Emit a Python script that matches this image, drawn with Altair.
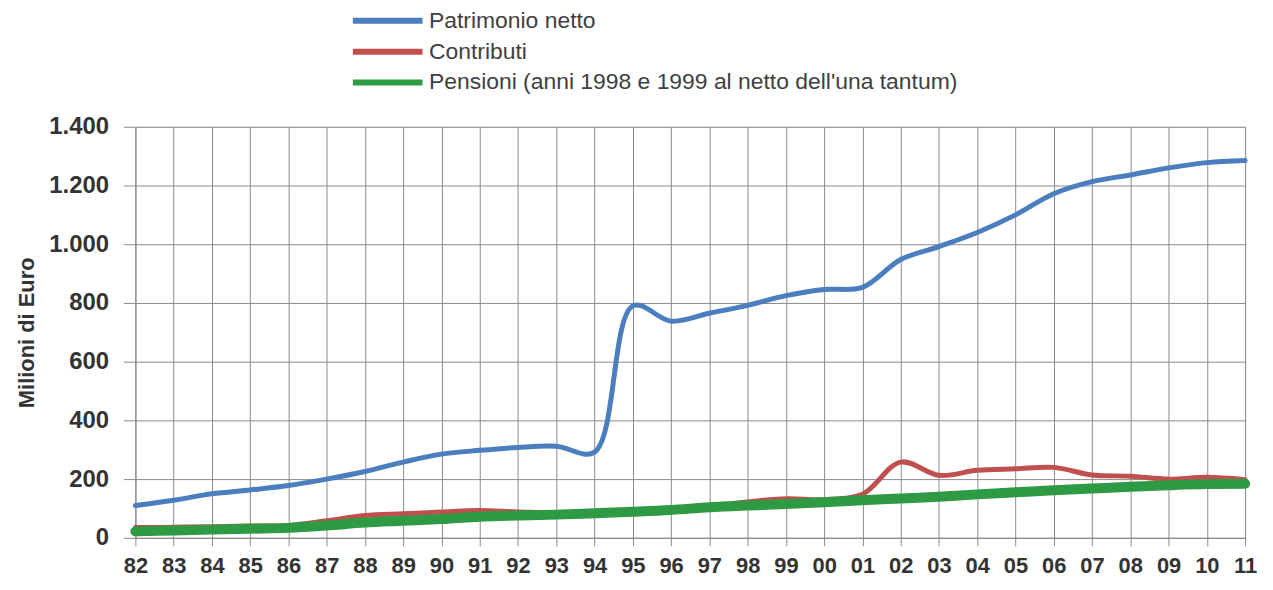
import altair as alt
import pandas as pd

years = ["82", "83", "84", "85", "86", "87", "88", "89", "90", "91",
         "92", "93", "94", "95", "96", "97", "98", "99", "00", "01",
         "02", "03", "04", "05", "06", "07", "08", "09", "10", "11"]

patrimonio = [110, 128, 150, 163, 178, 200, 226, 258, 285, 298,
              308, 312, 292, 790, 738, 765, 792, 825, 846, 853,
              948, 992, 1040, 1100, 1172, 1213, 1236, 1260, 1278, 1285]

contributi = [35, 36, 38, 40, 42, 58, 76, 82, 88, 93,
              88, 86, 88, 92, 98, 108, 122, 133, 130, 148,
              258, 213, 230, 235, 240, 214, 210, 200, 206, 198]

pensioni = [22, 25, 28, 31, 34, 42, 52, 58, 64, 72,
            76, 79, 84, 89, 95, 104, 110, 115, 121, 128,
            134, 140, 148, 155, 162, 168, 174, 179, 183, 184]

series_names = ["Patrimonio netto", "Contributi",
                "Pensioni (anni 1998 e 1999 al netto dell'una tantum)"]
series_colors = ["#4a7ebf", "#c0504d", "#2f9a44"]
series_widths = [5, 5, 10]

rows = []
for name, vals in zip(series_names, [patrimonio, contributi, pensioni]):
    for i, (y, v) in enumerate(zip(years, vals)):
        rows.append({"anno": y, "valore": v, "serie": name, "ord": i})
df = pd.DataFrame(rows)

grid_col = "#8a8a8a"

color = alt.Color(
    "serie:N",
    scale=alt.Scale(domain=series_names, range=series_colors),
    legend=alt.Legend(
        orient="none", legendX=242, legendY=-118, title=None, padding=0,
        symbolType="M-5,0L5,0", symbolSize=196, symbolStrokeWidth=6,
        labelFont="Liberation Sans", labelFontSize=23, labelColor="#404040",
        labelOffset=30, labelLimit=0, rowPadding=6,
    ),
)

x = alt.X(
    "anno:N", sort=years,
    scale=alt.Scale(type="point", padding=0),
    axis=alt.Axis(
        title=None, labelAngle=0, grid=True, gridColor=grid_col,
        domainColor=grid_col, tickColor=grid_col, tickSize=8,
        labelFont="Liberation Sans", labelFontWeight="bold", labelFontSize=22,
        labelColor="#333333", labelPadding=10,
    ),
)
y = alt.Y(
    "valore:Q",
    scale=alt.Scale(domain=[0, 1400]),
    axis=alt.Axis(
        title="Milioni di Euro", values=[0, 200, 400, 600, 800, 1000, 1200, 1400],
        grid=True, gridColor=grid_col, domainColor=grid_col, tickColor=grid_col,
        tickSize=12, labelPadding=15,
        labelExpr="replace(format(datum.value, ','), ',', '.')",
        labelFont="Liberation Sans", labelFontWeight="bold", labelFontSize=24,
        labelColor="#333333",
        titleFont="Liberation Sans", titleFontWeight="bold", titleFontSize=22,
        titleColor="#333333", titlePadding=10,
    ),
)

layers = []
for name, w in zip(series_names, series_widths):
    layers.append(
        alt.Chart(df)
        .transform_filter(alt.datum.serie == name)
        .mark_line(interpolate="catmull-rom", strokeWidth=w, strokeCap="round")
        .encode(x=x, y=y, color=color, order="ord:Q")
    )

chart = (
    alt.layer(*layers)
    .properties(width=1115, height=413, padding={"left": 7, "top": 0, "right": 0, "bottom": 0})
    .configure_view(stroke=grid_col)
    .configure(background="white")
)

chart.save("out.html", embed_options={"renderer": "svg", "actions": False})
